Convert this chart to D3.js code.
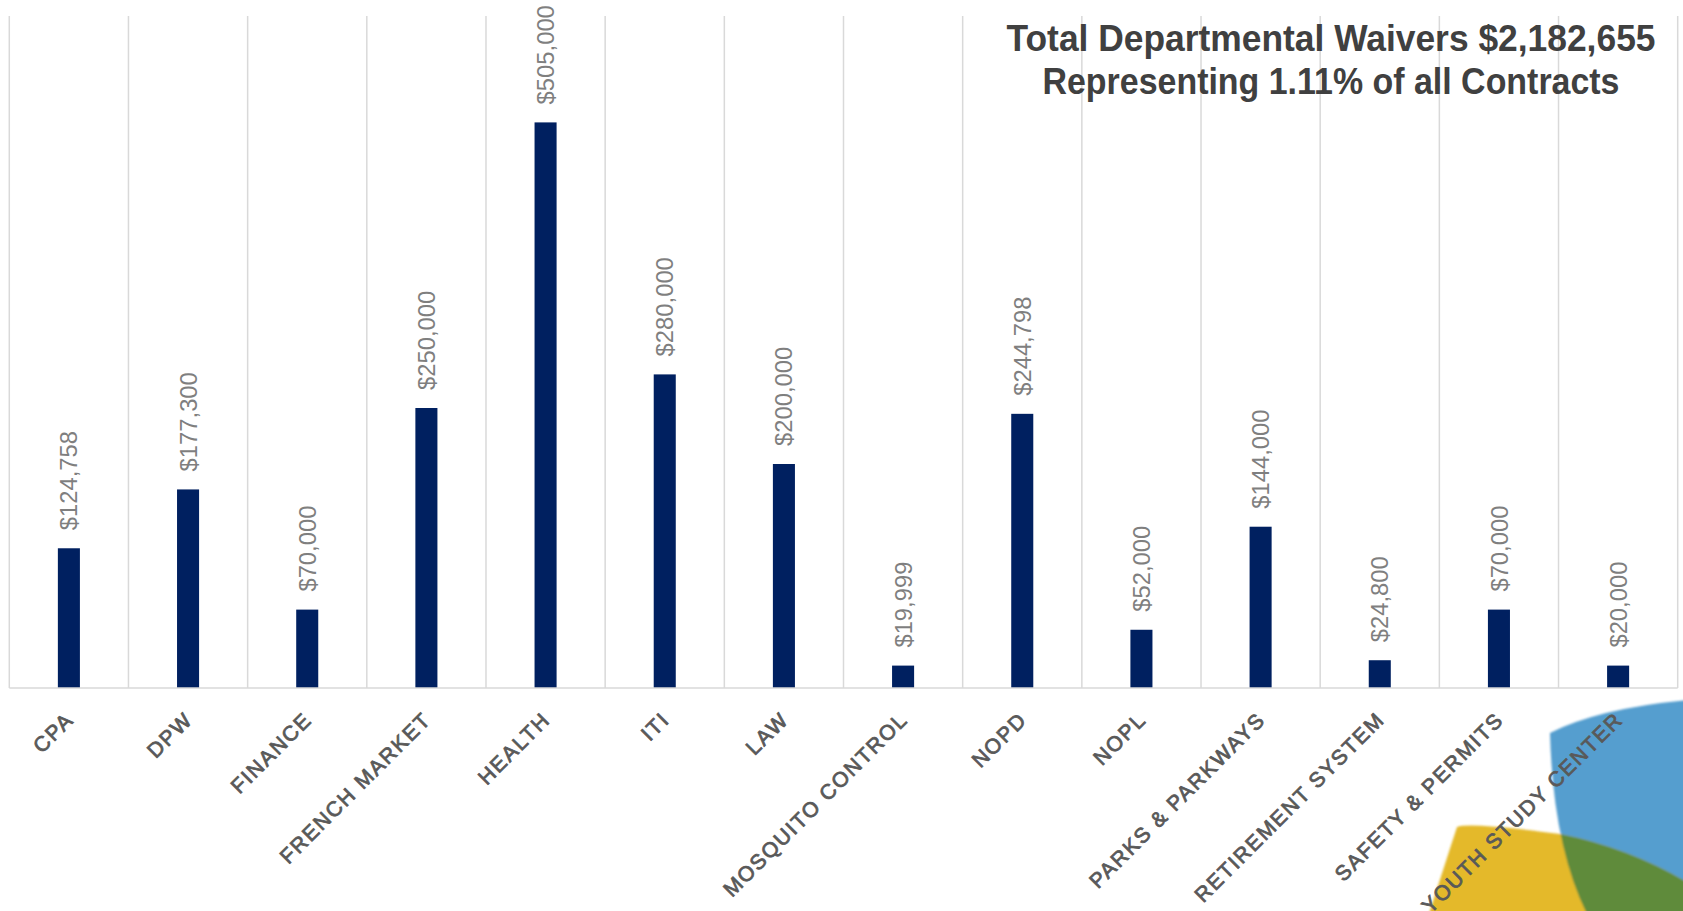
<!DOCTYPE html>
<html>
<head>
<meta charset="utf-8">
<script src="https://cdn.jsdelivr.net/npm/d3@7"></script>
<style>
  html, body { margin: 0; padding: 0; background: #fff; }
  svg { display: block; }
</style>
</head>
<body>
<div id="chart"></div>
<script>
// departments and waiver amounts
var departments = ["CPA", "DPW", "FINANCE", "FRENCH MARKET", "HEALTH", "ITI", "LAW",
  "MOSQUITO CONTROL", "NOPD", "NOPL", "PARKS & PARKWAYS", "RETIREMENT SYSTEM",
  "SAFETY & PERMITS", "YOUTH STUDY CENTER"];
var waivers = [124758, 177300, 70000, 250000, 505000, 280000, 200000,
  19999, 244798, 52000, 144000, 24800, 70000, 20000];
var titleLines = ["Total Departmental Waivers $2,182,655", "Representing 1.11% of all Contracts"];
var yMax = 600000;

var width = 1683;
var height = 911;

var svg = d3.select("#chart")
    .append("svg")
    .attr("width", width)
    .attr("height", height);

var plot = { left: 9.3, right: 1677.7, top: 16, bottom: 688 };

var x = d3.scaleBand()
    .domain(departments)
    .range([plot.left, plot.right])
    .padding(0);

var y = d3.scaleLinear()
    .domain([0, yMax])
    .range([plot.bottom, plot.top]);

var barW = x.bandwidth() * 0.185;

// decorative template shapes, bottom right
var defs = svg.append("defs");
defs.append("filter").attr("id", "soft")
  .append("feGaussianBlur").attr("stdDeviation", 0.8);
var bluePath = "M1550,733 Q1600,708 1690,700 L1690,920 L1590,920 Q1553,850 1550,733 Z";
var yellowPath = "M1457,827 Q1470,822 1560,834 Q1630,848 1690,884 L1690,920 L1427,920 Q1443,870 1457,827 Z";
defs.append("clipPath").attr("id", "blueClip")
  .append("path").attr("d", bluePath);

var deco = svg.append("g").attr("filter", "url(#soft)");
deco.append("path").attr("d", bluePath).attr("fill", "#549ecf");
deco.append("path").attr("d", yellowPath).attr("fill", "#e4b92c");
deco.append("path").attr("d", yellowPath).attr("fill", "#5e8b3b")
  .attr("clip-path", "url(#blueClip)");

// vertical gridlines at category boundaries
var bounds = departments.map(function(d) { return x(d); }).concat([plot.right]);
svg.append("g").selectAll("line")
    .data(bounds)
    .enter()
    .append("line")
    .attr("x1", function(d) { return d; })
    .attr("x2", function(d) { return d; })
    .attr("y1", plot.top)
    .attr("y2", plot.bottom)
    .attr("stroke", "#d9d9d9")
    .attr("stroke-width", 1.5);

// bars
svg.append("g").selectAll("rect")
    .data(waivers)
    .enter()
    .append("rect")
    .attr("x", function(d, i) { return x(departments[i]) + (x.bandwidth() - barW) / 2; })
    .attr("y", function(d) { return y(d); })
    .attr("width", barW)
    .attr("height", function(d) { return y(0) - y(d); })
    .attr("fill", "#002060");

// baseline
svg.append("line")
    .attr("x1", plot.left).attr("x2", plot.right)
    .attr("y1", y(0)).attr("y2", y(0))
    .attr("stroke", "#d9d9d9")
    .attr("stroke-width", 1.5);

// value labels (rotated)
var fmt = d3.format("$,");
svg.append("g").selectAll("text")
    .data(waivers)
    .enter()
    .append("text")
    .attr("transform", function(d, i) {
        var cx = x(departments[i]) + x.bandwidth() / 2;
        return "translate(" + cx + "," + (y(d) - 18) + ") rotate(-90)";
    })
    .attr("dy", "0.36em")
    .attr("font-family", "'Liberation Sans', Arial, sans-serif")
    .attr("font-size", 23.8)
    .attr("fill", "#7f7f7f")
    .text(function(d) { return fmt(d); });

// category labels (rotated -45)
svg.append("g").selectAll("text")
    .data(departments)
    .enter()
    .append("text")
    .attr("transform", function(d) {
        var cx = x(d) + x.bandwidth() / 2;
        return "translate(" + (cx + 6) + "," + 721 + ") rotate(-45)";
    })
    .attr("text-anchor", "end")
    .attr("font-family", "'Liberation Sans', Arial, sans-serif")
    .attr("font-size", 21)
    .attr("letter-spacing", 1.75)
    .attr("fill", "#595959")
    .attr("stroke", "#595959")
    .attr("stroke-width", 0.8)
    .text(function(d) { return d; });

// title box
var titleWidths = [649, 577];
svg.append("g").selectAll("text")
    .data(titleLines)
    .enter()
    .append("text")
    .attr("x", 1331)
    .attr("y", function(d, i) { return 51 + i * 43; })
    .attr("text-anchor", "middle")
    .attr("font-family", "'Liberation Sans Narrow', 'Liberation Sans', sans-serif")
    .attr("font-weight", "bold")
    .attr("font-size", 37)
    .attr("fill", "#404040")
    .attr("textLength", function(d, i) { return titleWidths[i]; })
    .attr("lengthAdjust", "spacingAndGlyphs")
    .text(function(d) { return d; });
</script>
</body>
</html>
